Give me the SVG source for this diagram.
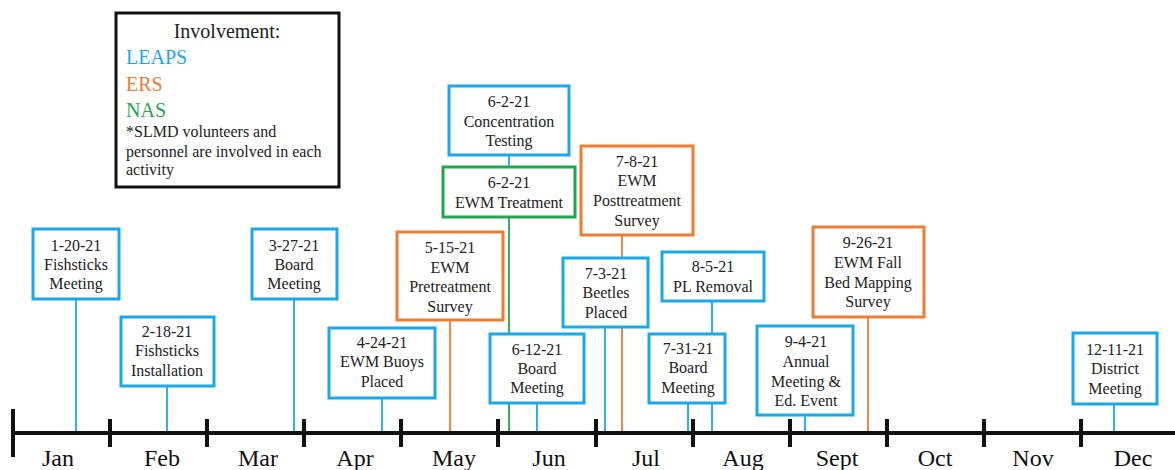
<svg xmlns="http://www.w3.org/2000/svg" width="1175" height="470" viewBox="0 0 1175 470">
<style>
.bx{fill:#fff;stroke-width:3}
.leaps{stroke:#1AA9E8}
.ers{stroke:#ED7D31}
.nas{stroke:#1FA84F}
.t{font-family:"Liberation Serif","Times New Roman",serif;font-size:16px;fill:#222;text-anchor:middle}
.m{font-family:"Liberation Serif","Times New Roman",serif;font-size:24px;fill:#111;text-anchor:middle}
.lg{font-family:"Liberation Serif","Times New Roman",serif;font-size:20px}
.sm{font-family:"Liberation Serif","Times New Roman",serif;font-size:16px;fill:#222}
.c{stroke-width:1.8;fill:none}
.tk{stroke:#111;stroke-width:4}
</style>
<rect width="1175" height="470" fill="#fff"/>
<g id="connectors">
<line class="c leaps" x1="76" y1="299" x2="76" y2="433"/>
<line class="c leaps" x1="167" y1="386" x2="167" y2="433"/>
<line class="c leaps" x1="294" y1="299" x2="294" y2="433"/>
<line class="c leaps" x1="382" y1="398" x2="382" y2="433"/>
<line class="c ers" x1="450" y1="320" x2="450" y2="433"/>
<line class="c leaps" x1="509" y1="155" x2="509" y2="168"/>
<line class="c nas" x1="509" y1="217" x2="509" y2="433"/>
<line class="c leaps" x1="537" y1="403" x2="537" y2="433"/>
<line class="c ers" x1="622" y1="235" x2="622" y2="433"/>
<line class="c leaps" x1="605" y1="327" x2="605" y2="433"/>
<line class="c leaps" x1="712" y1="301" x2="712" y2="433"/>
<line class="c leaps" x1="688" y1="403" x2="688" y2="433"/>
<line class="c leaps" x1="805" y1="415" x2="805" y2="433"/>
<line class="c ers" x1="868" y1="317" x2="868" y2="433"/>
<line class="c leaps" x1="1114" y1="404" x2="1114" y2="433"/>
</g>
<g id="timeline">
<line class="tk" x1="13" y1="433" x2="1175" y2="433"/>
<line class="tk" x1="13" y1="409" x2="13" y2="457"/>
<line class="tk" x1="110" y1="419" x2="110" y2="447"/>
<line class="tk" x1="207" y1="419" x2="207" y2="447"/>
<line class="tk" x1="304" y1="419" x2="304" y2="447"/>
<line class="tk" x1="401" y1="419" x2="401" y2="447"/>
<line class="tk" x1="498" y1="419" x2="498" y2="447"/>
<line class="tk" x1="596" y1="419" x2="596" y2="447"/>
<line class="tk" x1="693" y1="419" x2="693" y2="447"/>
<line class="tk" x1="790" y1="419" x2="790" y2="447"/>
<line class="tk" x1="887" y1="419" x2="887" y2="447"/>
<line class="tk" x1="984" y1="419" x2="984" y2="447"/>
<line class="tk" x1="1081" y1="419" x2="1081" y2="447"/>
<text class="m" x="58" y="466">Jan</text>
<text class="m" x="162" y="466">Feb</text>
<text class="m" x="258" y="466">Mar</text>
<text class="m" x="355" y="466">Apr</text>
<text class="m" x="454" y="466">May</text>
<text class="m" x="549" y="466">Jun</text>
<text class="m" x="646" y="466">Jul</text>
<text class="m" x="743" y="466">Aug</text>
<text class="m" x="837" y="466">Sept</text>
<text class="m" x="935" y="466">Oct</text>
<text class="m" x="1033" y="466">Nov</text>
<text class="m" x="1133" y="466">Dec</text>
</g>
<g id="legend">
<rect x="116" y="13" width="223" height="174" fill="#fff" stroke="#111" stroke-width="3"/>
<text class="lg" x="227" y="38" text-anchor="middle" fill="#222">Involvement:</text>
<text class="lg" x="126" y="64" fill="#1AA9E8">LEAPS</text>
<text class="lg" x="126" y="91" fill="#ED7D31">ERS</text>
<text class="lg" x="126" y="117" fill="#1FA84F">NAS</text>
<text class="sm" x="126" y="137">*SLMD volunteers and</text>
<text class="sm" x="126" y="157">personnel are involved in each</text>
<text class="sm" x="126" y="175">activity</text>
</g>
<g id="n-1-20-21">
<rect class="bx leaps" x="33" y="229" width="86" height="70"/>
<text class="t" x="76" y="251">1-20-21</text>
<text class="t" x="76" y="270">Fishsticks</text>
<text class="t" x="76" y="289">Meeting</text>
</g>
<g id="n-2-18-21">
<rect class="bx leaps" x="121" y="317" width="93" height="69"/>
<text class="t" x="167" y="337">2-18-21</text>
<text class="t" x="167" y="356">Fishsticks</text>
<text class="t" x="167" y="376">Installation</text>
</g>
<g id="n-3-27-21">
<rect class="bx leaps" x="252" y="229" width="85" height="70"/>
<text class="t" x="294" y="251">3-27-21</text>
<text class="t" x="294" y="270">Board</text>
<text class="t" x="294" y="289">Meeting</text>
</g>
<g id="n-4-24-21">
<rect class="bx leaps" x="329" y="328" width="106" height="70"/>
<text class="t" x="382" y="348">4-24-21</text>
<text class="t" x="382" y="367">EWM Buoys</text>
<text class="t" x="382" y="387">Placed</text>
</g>
<g id="n-5-15-21">
<rect class="bx ers" x="397" y="232" width="106" height="88"/>
<text class="t" x="450" y="253">5-15-21</text>
<text class="t" x="450" y="273">EWM</text>
<text class="t" x="450" y="292">Pretreatment</text>
<text class="t" x="450" y="312">Survey</text>
</g>
<g id="n-6-2-21-conc">
<rect class="bx leaps" x="449" y="86" width="120" height="69"/>
<text class="t" x="509" y="107">6-2-21</text>
<text class="t" x="509" y="127">Concentration</text>
<text class="t" x="509" y="146">Testing</text>
</g>
<g id="n-6-2-21-treat">
<rect class="bx nas" x="443" y="167" width="132" height="50"/>
<text class="t" x="509" y="188">6-2-21</text>
<text class="t" x="509" y="208">EWM Treatment</text>
</g>
<g id="n-6-12-21">
<rect class="bx leaps" x="490" y="334" width="94" height="69"/>
<text class="t" x="537" y="355">6-12-21</text>
<text class="t" x="537" y="374">Board</text>
<text class="t" x="537" y="393">Meeting</text>
</g>
<g id="n-7-8-21">
<rect class="bx ers" x="581" y="146" width="112" height="89"/>
<text class="t" x="637" y="167">7-8-21</text>
<text class="t" x="637" y="186">EWM</text>
<text class="t" x="637" y="206">Posttreatment</text>
<text class="t" x="637" y="226">Survey</text>
</g>
<g id="n-7-3-21">
<rect class="bx leaps" x="563" y="258" width="85" height="69"/>
<text class="t" x="606" y="279">7-3-21</text>
<text class="t" x="606" y="298">Beetles</text>
<text class="t" x="606" y="318">Placed</text>
</g>
<g id="n-8-5-21">
<rect class="bx leaps" x="662" y="252" width="102" height="49"/>
<text class="t" x="713" y="272">8-5-21</text>
<text class="t" x="713" y="292">PL Removal</text>
</g>
<g id="n-7-31-21">
<rect class="bx leaps" x="649" y="334" width="76" height="69"/>
<text class="t" x="688" y="354">7-31-21</text>
<text class="t" x="688" y="373">Board</text>
<text class="t" x="688" y="393">Meeting</text>
</g>
<g id="n-9-4-21">
<rect class="bx leaps" x="757" y="326" width="96" height="89"/>
<text class="t" x="806" y="347">9-4-21</text>
<text class="t" x="806" y="367">Annual</text>
<text class="t" x="806" y="387">Meeting &amp;</text>
<text class="t" x="806" y="406">Ed. Event</text>
</g>
<g id="n-9-26-21">
<rect class="bx ers" x="813" y="227" width="111" height="90"/>
<text class="t" x="868" y="248">9-26-21</text>
<text class="t" x="868" y="268">EWM Fall</text>
<text class="t" x="868" y="288">Bed Mapping</text>
<text class="t" x="868" y="307">Survey</text>
</g>
<g id="n-12-11-21">
<rect class="bx leaps" x="1073" y="333" width="84" height="71"/>
<text class="t" x="1115" y="355">12-11-21</text>
<text class="t" x="1115" y="374">District</text>
<text class="t" x="1115" y="394">Meeting</text>
</g>
</svg>
